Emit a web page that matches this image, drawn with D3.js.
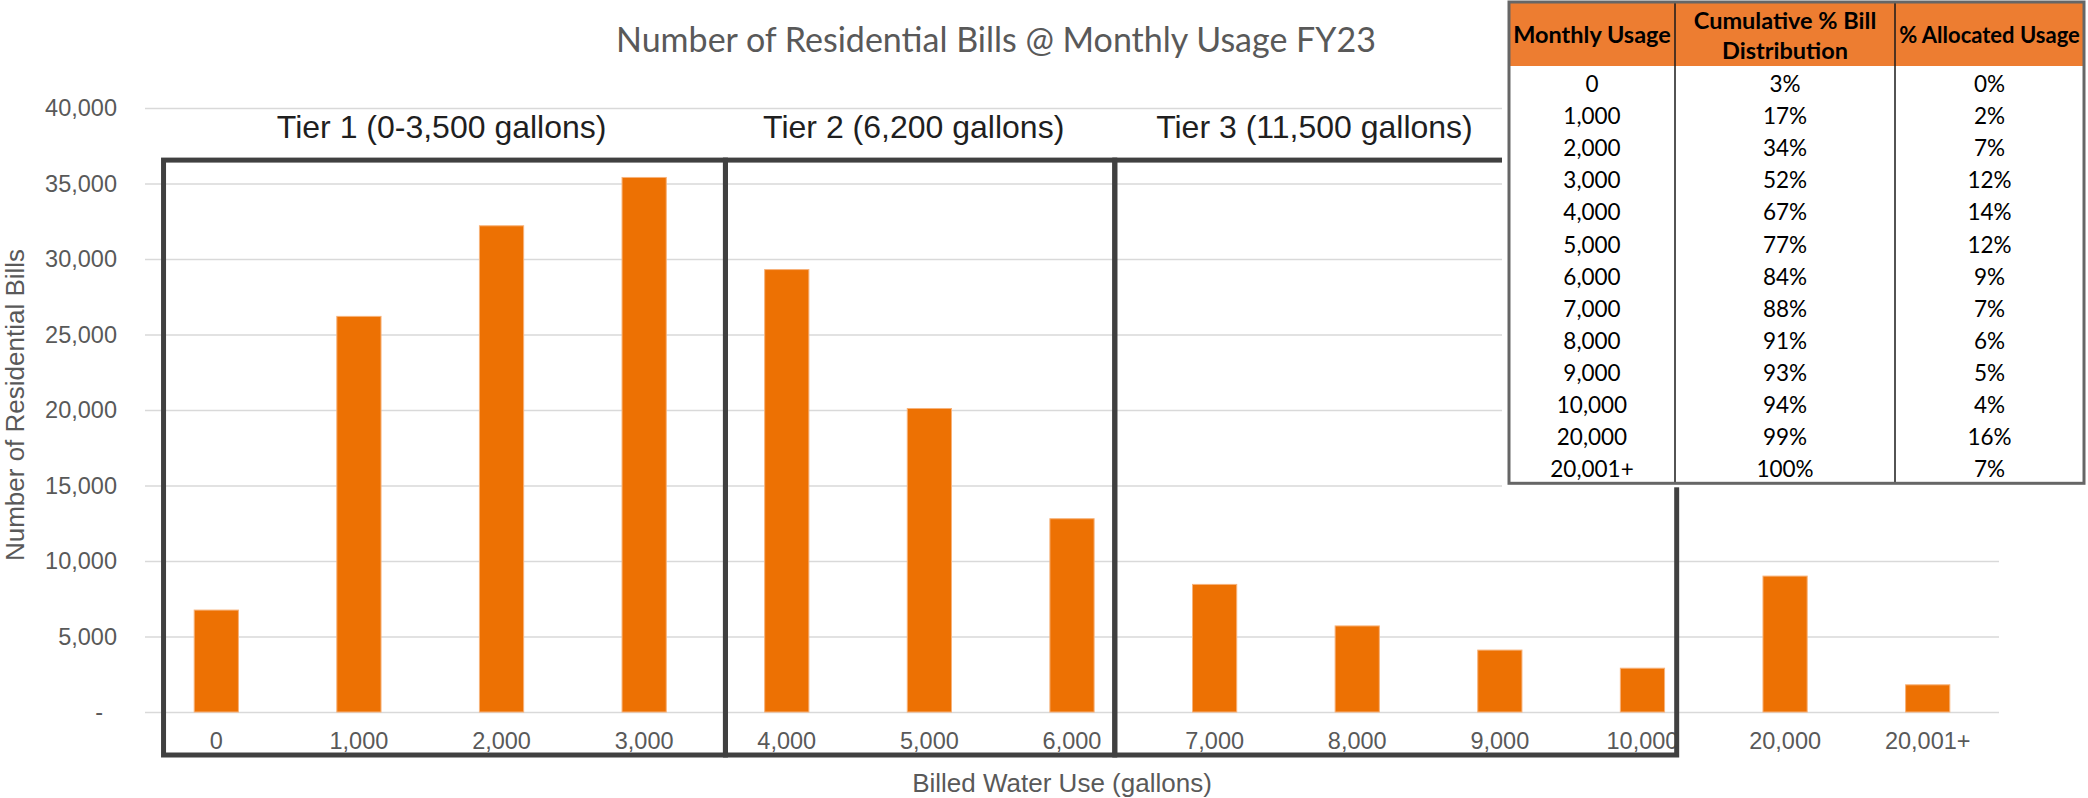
<!DOCTYPE html>
<html>
<head>
<meta charset="utf-8">
<script src="https://cdn.jsdelivr.net/npm/d3@7/dist/d3.min.js"></script>
<style>
body{margin:0;background:#fff;}
svg{display:block;}
</style>
</head>
<body>
<div id="graph"></div>
<script>
// chart data
categories=["0","1,000","2,000","3,000","4,000","5,000","6,000","7,000","8,000","9,000","10,000","20,000","20,001+"];
bills=[6750,26200,32200,35400,29300,20100,12800,8450,5700,4100,2900,9000,1800];
yTicks=[0,5000,10000,15000,20000,25000,30000,35000,40000];

// tier boxes, in category units (0 = left edge of first band)
tierLabels=["Tier 1 (0-3,500 gallons)","Tier 2 (6,200 gallons)","Tier 3 (11,500 gallons)"];
tierFrom=[0.13,4.07,6.8];
tierTo=[4.07,6.8,10.74];
tierLabelAt=[2.08,5.39,8.2];
tierTop=36550;

// side table
tableHeaders=[["Monthly Usage"],["Cumulative % Bill","Distribution"],["% Allocated Usage"]];
tableUsage=["0","1,000","2,000","3,000","4,000","5,000","6,000","7,000","8,000","9,000","10,000","20,000","20,001+"];
tableCum=["3%","17%","34%","52%","67%","77%","84%","88%","91%","93%","94%","99%","100%"];
tableAlloc=["0%","2%","7%","12%","14%","12%","9%","7%","6%","5%","4%","16%","7%"];

svgW=2088;
svgH=798;
plotL=145; plotR=1999;
plotT=108; plotB=712;
axisFont="'Liberation Sans', Arial, sans-serif";
titleFont="Lato, 'Open Sans', sans-serif";
grey="#595959";

// shrink font until text fits the width
fit=function(sel,w){
	sel.each(function(){
		var t=d3.select(this);
		var fs=parseFloat(t.style('font-size'));
		while(this.getComputedTextLength()>w && fs>8){
			fs-=0.5;
			t.style('font-size',fs+'px');
		}
	});
};

var svg=d3.select('#graph').append('svg').attr('width',svgW).attr('height',svgH);

var x=d3.scaleBand().domain(categories).range([plotL,plotR]).paddingInner(0.69).paddingOuter(0.345);
var xi=d3.scaleLinear().domain([0,categories.length]).range([plotL,plotR]);
var y=d3.scaleLinear().domain([0,40000]).range([plotB,plotT]);

// gridlines + y labels
var gy=svg.append('g').attr('transform','translate('+plotL+',0)')
	.call(d3.axisLeft(y).tickValues(yTicks).tickSize(-(plotR-plotL)).tickPadding(28)
		.tickFormat(function(d){return d===0?"-":d3.format(",")(d);}));
gy.select('.domain').remove();
gy.selectAll('line').attr('stroke','#d9d9d9').attr('stroke-width',1.5);
gy.selectAll('text').attr('fill',grey).style('font-family',axisFont).style('font-size','23.5px')
	.attr('dx',function(d){return d===0?-14:0;});

// bars
svg.append('g').selectAll('rect').data(bills).enter().append('rect')
	.attr('x',function(d,i){return x(categories[i]);})
	.attr('y',function(d){return y(d);})
	.attr('width',x.bandwidth())
	.attr('height',function(d){return y(0)-y(d);})
	.attr('fill','#ED7103')
	.attr('stroke','#f7b27a')
	.attr('stroke-width',1);

// x labels
var gx=svg.append('g').attr('transform','translate(0,'+plotB+')')
	.call(d3.axisBottom(x).tickSize(0).tickPadding(0));
gx.select('.domain').remove();
gx.selectAll('text').attr('fill',grey).attr('y',37).attr('dy',0)
	.style('font-family',axisFont).style('font-size','23.5px');

// tier boxes
svg.append('g').selectAll('rect').data(tierLabels).enter().append('rect')
	.attr('x',function(d,i){return xi(tierFrom[i]);})
	.attr('y',y(tierTop))
	.attr('width',function(d,i){return xi(tierTo[i])-xi(tierFrom[i]);})
	.attr('height',plotB+43-y(tierTop))
	.attr('fill','none')
	.attr('stroke','#404040')
	.attr('stroke-width',5);

svg.append('g').selectAll('text').data(tierLabels).enter().append('text')
	.text(function(d){return d;})
	.attr('x',function(d,i){return xi(tierLabelAt[i]);})
	.attr('y',138)
	.attr('text-anchor','middle')
	.attr('fill','#1f1f1f')
	.style('font-family',axisFont).style('font-size','32px');

// axis titles
svg.append('text').text('Billed Water Use (gallons)')
	.attr('x',1062).attr('y',792).attr('text-anchor','middle')
	.attr('fill',grey).style('font-family',axisFont).style('font-size','26px');
svg.append('text').text('Number of Residential Bills')
	.attr('transform','translate(23.5,405) rotate(-90)').attr('text-anchor','middle')
	.attr('fill',grey).style('font-family',axisFont).style('font-size','26px');

// chart title
svg.append('text').text('Number of Residential Bills @ Monthly Usage FY23')
	.attr('x',996).attr('y',52).attr('text-anchor','middle')
	.attr('fill',grey).style('font-family',titleFont).style('font-size','34.5px')
	.call(fit,766);

// table (sits on top of the plot, masks gridlines)
var colX=[1509,1675,1895,2084];
var tTop=2, headH=64, rowH=32.1;
var nRows=tableUsage.length;
var tBottom=tTop+headH+nRows*rowH;
var tg=svg.append('g');
tg.append('rect').attr('x',1502).attr('y',0).attr('width',svgW-1502).attr('height',tBottom+4).attr('fill','#fff');
tg.append('rect').attr('x',colX[0]).attr('y',tTop).attr('width',colX[3]-colX[0]).attr('height',headH).attr('fill','#ED7D31');

var cols=[tableUsage,tableCum,tableAlloc];
cols.forEach(function(col,c){
	var cx=(colX[c]+colX[c+1])/2;
	var hd=tableHeaders[c];
	hd.forEach(function(line,k){
		tg.append('text').text(line)
			.attr('x',cx)
			.attr('y',hd.length==1?43:(29+k*30))
			.attr('text-anchor','middle')
			.attr('fill','#000')
			.style('font-family',titleFont).style('font-weight','bold').style('font-size','23.5px')
			.call(fit,colX[c+1]-colX[c]-6);
	});
	tg.append('g').selectAll('text').data(col).enter().append('text')
		.text(function(d){return d;})
		.attr('x',cx)
		.attr('y',function(d,i){return tTop+headH+i*rowH+26;})
		.attr('text-anchor','middle')
		.attr('fill','#000')
		.style('font-family',titleFont).style('font-size','22.5px');
});
tg.selectAll('line.col').data([1,2]).enter().append('line')
	.attr('x1',function(d){return colX[d];}).attr('x2',function(d){return colX[d];})
	.attr('y1',tTop).attr('y2',tBottom)
	.attr('stroke','#1a1a1a').attr('stroke-width',1.5);
tg.append('rect').attr('x',colX[0]).attr('y',tTop).attr('width',colX[3]-colX[0]).attr('height',tBottom-tTop)
	.attr('fill','none').attr('stroke','#666').attr('stroke-width',3);
</script>
</body>
</html>
